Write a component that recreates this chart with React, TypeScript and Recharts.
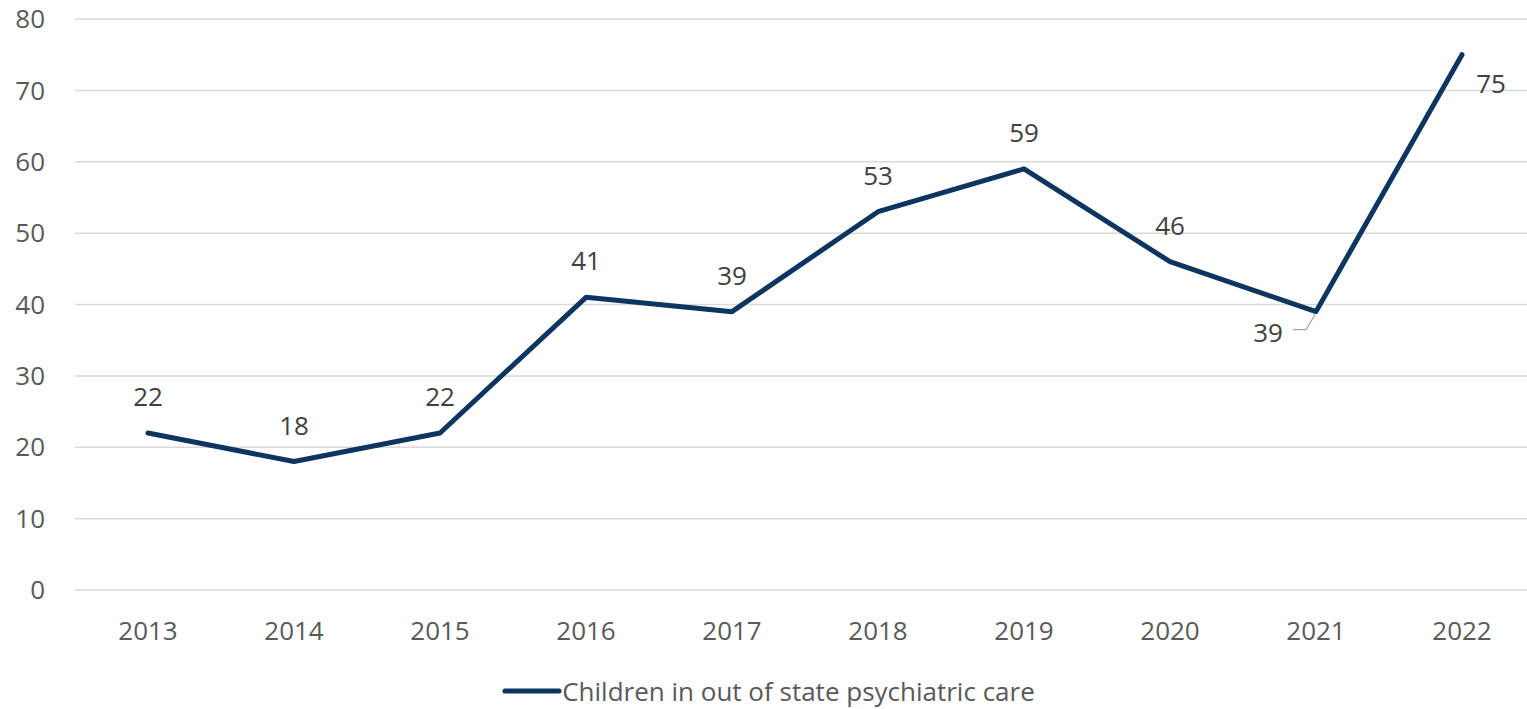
import { LineChart, Line, XAxis, YAxis, CartesianGrid, LabelList } from "recharts";

const years = ["2013", "2014", "2015", "2016", "2017", "2018", "2019", "2020", "2021", "2022"];
const children = [22, 18, 22, 41, 39, 53, 59, 46, 39, 75];
const yTicks = [0, 10, 20, 30, 40, 50, 60, 70, 80];

const data = years.map((year, i) => ({ year, value: children[i] }));

const FONT = "Open Sans, Liberation Sans, sans-serif";
const LINE_COLOR = "#0c355f";
const FS = 26;

function PointLabel(props: any) {
  const { x, y, value, index } = props;
  const style = { fontFamily: FONT, fontSize: FS, fill: "#404040" };
  if (index === years.length - 1) {
    // last point: label sits right and below
    return (
      <text x={x + 29} y={y + 28} textAnchor="middle" dominantBaseline="central" style={style}>
        {value}
      </text>
    );
  }
  if (index === years.length - 2) {
    // 2021: left-below with a small leader line
    return (
      <g>
        <polyline
          points={`${x - 23},${y + 18} ${x - 10},${y + 18} ${x - 1},${y + 3}`}
          fill="none"
          stroke="#a6a6a6"
          strokeWidth={1.2}
        />
        <text x={x - 48} y={y + 20} textAnchor="middle" dominantBaseline="central" style={style}>
          {value}
        </text>
      </g>
    );
  }
  return (
    <text x={x} y={y - 37} textAnchor="middle" dominantBaseline="central" style={style}>
      {value}
    </text>
  );
}

export default function App() {
  return (
    <div style={{ position: "absolute", left: 0, top: 0, width: 1527, height: 709, overflow: "hidden", background: "#fff" }}>
      <LineChart
        width={1535}
        height={709}
        data={data}
        margin={{ top: 19, right: 0, bottom: 89, left: 0 }}
      >
        <CartesianGrid vertical={false} stroke="#d9d9d9" strokeWidth={1.5} />
        <XAxis
          dataKey="year"
          axisLine={false}
          tickLine={false}
          tickMargin={26}
          padding={{ left: 73, right: 73 }}
          tick={{ fontFamily: FONT, fontSize: FS, fill: "#595959" }}
          interval={0}
        />
        <YAxis
          domain={[0, 80]}
          ticks={yTicks}
          width={75}
          axisLine={false}
          tickLine={false}
          tickMargin={24}
          tick={{ fontFamily: FONT, fontSize: FS, fill: "#595959" }}
        />
        <Line
          type="linear"
          dataKey="value"
          stroke={LINE_COLOR}
          strokeWidth={5}
          strokeLinecap="round"
          strokeLinejoin="round"
          dot={false}
          activeDot={false}
          isAnimationActive={false}
        >
          <LabelList dataKey="value" content={<PointLabel />} />
        </Line>
      </LineChart>
      <div
        style={{
          position: "absolute",
          left: 0,
          width: 1527,
          top: 673,
          height: 36,
          display: "flex",
          alignItems: "center",
          justifyContent: "center",
          fontFamily: FONT,
          fontSize: FS,
          color: "#595959",
          paddingLeft: 10,
          boxSizing: "border-box",
        }}
      >
        <svg width={60} height={10}>
          <line x1={3} y1={5} x2={57} y2={5} stroke={LINE_COLOR} strokeWidth={5} strokeLinecap="round" />
        </svg>
        <span>Children in out of state psychiatric care</span>
      </div>
    </div>
  );
}
